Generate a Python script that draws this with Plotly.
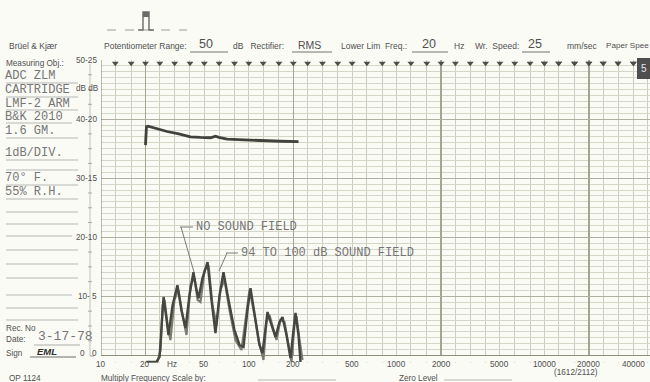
import math
import plotly.graph_objects as go

W, H = 650, 382

# ---------------- data ----------------
# Cartridge/arm frequency response (upper trace)
resp_freq = [20.0, 20.3, 20.8, 23.4, 28.0, 33.6, 40.3, 47.1, 55.1, 59.5, 62.7, 71.4, 87.9, 120, 164, 217]
resp_db = [35.6, 38.7, 38.8, 38.4, 37.9, 37.5, 37.0, 36.9, 36.85, 37.1, 36.9, 36.6, 36.5, 36.35, 36.25, 36.2]

# Rumble / noise traces (lower)
noise_a_freq = [20.3, 23.7, 24.9, 25.7, 26.5, 27.7, 28.6, 30.5, 32.9, 35.0, 37.3, 39.7, 42.2, 44.3,
                45.7, 48.6, 52.6, 55.9, 59.5, 63.4, 67.4, 72.9, 80.0, 86.5, 92.1, 98.0, 102.7, 111.0,
                118.1, 123.8, 129.7, 133.8, 142.4, 151.6, 161.3, 169.0, 179.9, 191.5, 200.6, 207.0,
                216.8, 223.8]
noise_a_db = [-1.1, -1.1, -0.25, 6.0, 9.9, 6.35, 3.47, 8.5, 11.9, 7.7, 4.65, 10.2, 14.1, 11.1,
              9.7, 13.1, 15.8, 9.4, 3.8, 10.2, 14.1, 9.4, 4.3, 1.78, 1.44, 7.7, 11.4, 6.0,
              1.78, 0.42, 5.16, 7.36, 5.16, 3.13, 5.67, 6.5, 3.47, -0.42, 4.3, 7.19,
              3.47, -1.1]

noise_b_freq = [20.3, 24.1, 25.3, 26.1, 26.9, 28.2, 29.5, 31.4, 33.4, 35.6, 37.9, 40.3, 42.9, 45.0,
                47.1, 50.2, 53.4, 56.8, 60.5, 64.3, 68.5, 74.0, 81.3, 89.2, 95.0, 101.1, 109.3,
                116.3, 125.7, 131.7, 138.0, 146.9, 153.9, 163.8, 174.4, 185.6, 194.5, 203.8, 210.2,
                220.3, 230.9]
noise_b_db = [-1.27, -1.1, 0.93, 8.5, 9.4, 5.16, 2.62, 9.4, 11.1, 6.85, 3.47, 11.9, 13.1, 9.4,
              9.05, 14.4, 15.3, 8.5, 5.16, 11.1, 12.8, 7.7, 2.62, 0.93, 6.0, 11.1, 6.85,
              2.62, -0.76, 5.67, 6.85, 4.3, 2.62, 6.0, 5.67, 1.78, -1.1, 5.16, 6.68,
              2.62, -0.76]

# Frequency scale labels
freq_ticks = [10, 20, 50, 100, 200, 500, 1000, 2000, 5000, 10000, 20000, 40000]
freq_tick_text = ["10", "20", "50", "100", "200", "500", "1000", "2000", "5000", "10000", "20000", "40000"]

# Level scale labels (dB, left/right pairs)
level_ticks = [50, 40, 30, 20, 10]
level_text = ["50-25", "40-20", "30-15", "20-10", "10- 5"]

# Paper grid: third-octave lines
third_oct_base = [10, 12.5, 16, 20, 25, 31.5, 40, 50, 63, 80]
third_oct = [b * m for m in (1, 10, 100, 1000) for b in third_oct_base] + [10000 * b for b in (1, 1.25, 1.6, 2, 2.5, 3.15, 4, 5)]
major_freq_lines = [20, 200, 2000, 20000]
minor_freq_lines = [f for f in third_oct if min(abs(f - m) for m in major_freq_lines) > 1e-6]

# ---------------- styling ----------------
BG = "#fbfbf6"
INK = "#505050"
TYPE = "#767676"
SANS = "Liberation Sans, Arial, sans-serif"
MONO = "Liberation Mono, DejaVu Sans Mono, monospace"

# axis geometry (pixels)
X10 = 101.0       # 10 Hz
PX_DEC = 147.8    # px per decade
Y50, Y0 = 60.0, 355.5
PX_DB = (Y0 - Y50) / 50.0
Y_MIN = -1.2
x_hi = 1 + (W - X10) / PX_DEC
y_bottom_px = Y0 - Y_MIN * PX_DB

annotations = []
shapes = []


def px(x):
    return x / W


def py(y):
    return 1 - y / H


def T(x, y, s, size=8.5, color=INK, family=SANS, xanchor="left", yanchor="middle"):
    annotations.append(dict(x=px(x), y=py(y), xref="paper", yref="paper", text=s, showarrow=False,
                            xanchor=xanchor, yanchor=yanchor, borderpad=0,
                            font=dict(size=size, color=color, family=family)))


def L(x0, y0, x1, y1, color=INK, width=1, dash=None):
    line = dict(color=color, width=width)
    if dash:
        line["dash"] = dash
    shapes.append(dict(type="line", xref="paper", yref="paper", x0=px(x0), y0=py(y0),
                       x1=px(x1), y1=py(y1), line=line, layer="above"))


fig = go.Figure()

fig.add_trace(go.Scatter(x=resp_freq, y=resp_db, mode="lines",
                         line=dict(color="#41423b", width=2.8), showlegend=False, hoverinfo="skip"))
fig.add_trace(go.Scatter(x=noise_b_freq, y=noise_b_db, mode="lines",
                         line=dict(color="#7a7b71", width=2.2), showlegend=False, hoverinfo="skip"))
fig.add_trace(go.Scatter(x=noise_a_freq, y=noise_a_db, mode="lines",
                         line=dict(color="#45463f", width=2.4), showlegend=False, hoverinfo="skip"))

# third-octave markers along top edge
marks = [f for f in third_oct if f > 10 and f < 10 ** x_hi]
fig.add_trace(go.Scatter(x=marks, y=[49.45] * len(marks), mode="markers",
                         marker=dict(symbol="triangle-down", size=6, color="#4d4d4d"),
                         cliponaxis=False, showlegend=False, hoverinfo="skip"))

# hide grid below 0 dB
shapes.append(dict(type="rect", xref="x", yref="y", x0=10, x1=10 ** x_hi, y0=Y_MIN, y1=0,
                   fillcolor=BG, line=dict(width=0), layer="between"))
# borders
shapes.append(dict(type="line", xref="x", yref="y", x0=10, x1=10, y0=0, y1=50,
                   line=dict(color="#8e9080", width=1.2), layer="between"))
shapes.append(dict(type="line", xref="x", yref="y", x0=10, x1=10 ** x_hi, y0=0, y1=0,
                   line=dict(color="#8e9080", width=1.2), layer="between"))

# ---------- header ----------
# pulse glyph
L(107, 30, 187, 30, "#9a9a9a", 1, "dash")
shapes.append(dict(type="path", xref="paper", yref="paper",
                   path=f"M {px(138)} {py(30)} L {px(143)} {py(30)} L {px(143)} {py(12)} L {px(149)} {py(12)} L {px(149)} {py(30)} L {px(154)} {py(30)}",
                   line=dict(color="#6a6a6a", width=1.4)))
shapes.append(dict(type="rect", xref="paper", yref="paper", x0=px(143), x1=px(149), y0=py(17), y1=py(12),
                   fillcolor="#6a6a6a", line=dict(width=0)))

T(8, 46, "Brüel & Kjær", 8.5)
T(103, 46, "Potentiometer Range:", 8.5)
T(198, 44, "50", 12.5)
L(190, 52, 228, 52, INK, 0.8)
T(232, 46, "dB   Rectifier:", 8.5)
T(297, 45, "RMS", 10.5)
L(292, 52, 332, 52, INK, 0.8)
T(340, 46, "Lower Lim  Freq.:", 8.5)
T(421, 44, "20", 12.5)
L(412, 52, 448, 52, INK, 0.8)
T(453, 46, "Hz", 8.5)
T(474, 46, "Wr.  Speed:", 8.5)
T(527, 44, "25", 12.5)
L(522, 52, 550, 52, INK, 0.8)
T(566, 46, "mm/sec", 8.5)
T(605, 46, "Paper Spee", 8.1)

# badge top-right
shapes.append(dict(type="rect", xref="paper", yref="paper", x0=px(637), x1=px(650), y0=py(79), y1=py(58),
                   fillcolor="#4e4e4e", line=dict(width=0)))
T(643.5, 69, "5", 10, "#e8e8e8", SANS, "center")

# ---------- left panel ----------
T(5, 64, "Measuring Obj.:", 8.2)
typed = [(76, "ADC ZLM"), (90, "CARTRIDGE"), (104, "LMF-2 ARM"), (117, "B&K 2010"), (131, "1.6 GM."),
         (153, "1dB/DIV."), (178, "70° F."), (192, "55% R.H.")]
for y, s in typed:
    T(4, y, s, 12.0, TYPE, MONO)
T(75, 88, "dB dB", 8.2, INK, SANS)

rules = [83, 97, 110, 138, 160, 170, 185, 199, 212, 224, 250, 264, 278, 308, 320]
for y in rules:
    L(6, y, 78, y, "#9a9a9a", 0.7)
for y in (123, 236, 295):
    L(6, y, 72, y, "#9a9a9a", 0.7)

# level labels
for v, s in zip(level_ticks, level_text):
    T(98, Y0 - v * PX_DB, s, 8.2, INK, SANS, "right")
T(86, 353, "0", 8.2, INK, SANS, "right")
T(98, 353, "0", 8.2, INK, SANS, "right")
# small ruler
L(90, 64, 90, 356, "#b4b4aa", 0.8)
L(90, 356, 94, 356, "#8a8a8a", 0.8)
for k in range(1, 20):
    v = k * 2.5
    if v % 10 == 0:
        continue
    yy = Y0 - v * PX_DB
    L(88, yy, 92, yy, "#9a9a90", 0.8)

T(5, 328, "Rec. No", 8.2)
T(5, 339, "Date:", 8.2)
T(37, 336, "3-17-78", 13, TYPE, MONO)
L(34, 345, 80, 345, "#8a8a8a", 0.7)
T(5, 353, "Sign", 8.2)
T(36, 351, "<b><i>EML</i></b>", 9.5, "#2e2e2e", SANS)
L(30, 357, 76, 357, "#5a5a5a", 0.9)

# ---------- bottom ----------
for f, s in zip(freq_ticks, freq_tick_text):
    xx = X10 + PX_DEC * (math.log10(f) - 1)
    T(xx, 364, s, 8.2, INK, SANS, "center")
T(172, 364, "Hz", 8.2, INK, SANS, "center")
T(8, 378, "OP 1124", 8.2)
T(100, 378, "Multiply Frequency Scale by:", 8.2)
L(258, 380, 336, 380, "#9a9a9a", 0.7)
T(398, 378, "Zero Level", 8.2)
L(444, 380, 512, 380, "#9a9a9a", 0.7)
T(553, 372, "(1612/2112)", 8.2)

# ---------- typed callouts ----------
T(195, 227, "NO SOUND FIELD", 12.0, TYPE, MONO)
L(180, 227, 193, 227, "#7a7a7a", 1)
L(181, 227, 194, 272, "#7a7a7a", 1)
T(240, 253, "94 TO 100 dB SOUND FIELD", 12.0, TYPE, MONO)
L(226, 253, 238, 253, "#7a7a7a", 1)
L(227, 253, 219, 271, "#7a7a7a", 1)

fig.update_layout(
    width=W, height=H,
    margin=dict(l=0, r=0, t=0, b=0),
    paper_bgcolor=BG, plot_bgcolor=BG,
    showlegend=False,
    hovermode=False,
    xaxis=dict(type="log", range=[1, x_hi], domain=[px(X10), 1.0],
               showticklabels=False, ticks="", zeroline=False, showline=False,
               tickmode="array", tickvals=major_freq_lines, gridcolor="#a3a595", gridwidth=1.3,
               minor=dict(tickmode="array", tickvals=minor_freq_lines, showgrid=True,
                          gridcolor="#cbcdbe", gridwidth=1, ticks="")),
    yaxis=dict(range=[Y_MIN, 50], domain=[py(y_bottom_px), py(Y50)],
               showticklabels=False, ticks="", zeroline=False, showline=False,
               tickmode="array", tickvals=[0, 10, 20, 30, 40, 50], gridcolor="#aeb0a1", gridwidth=1,
               minor=dict(tickmode="array", tickvals=list(range(0, 51)), showgrid=True,
                          gridcolor="#d4d6c8", gridwidth=1, ticks="")),
    annotations=annotations,
    shapes=shapes,
)

fig.write_html("out.html", config={"displayModeBar": False, "staticPlot": True},
               post_script="document.body.style.margin='0px';document.body.style.overflow='hidden';")
